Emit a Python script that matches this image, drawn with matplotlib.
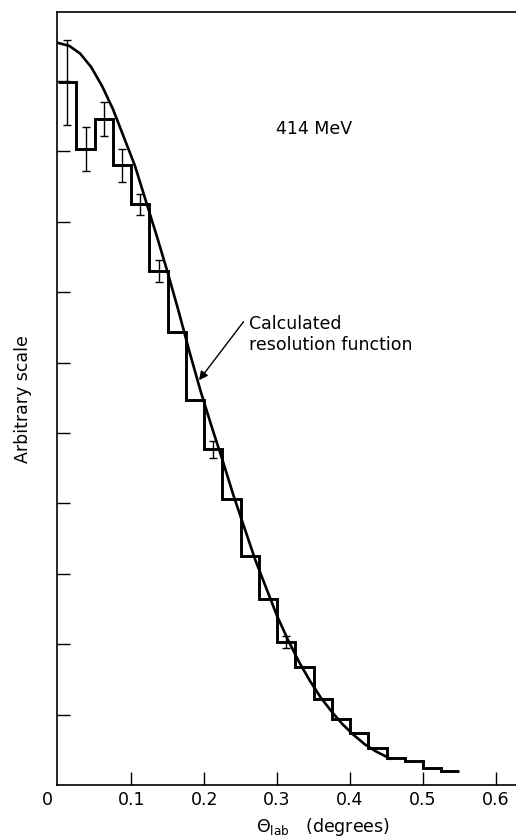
import numpy as np
import matplotlib.pyplot as plt
from matplotlib.transforms import ScaledTranslation

plt.close('all')
plt.rcParams['font.family'] = ['DejaVu Sans']

# histogram (bins of 0.025 deg), arbitrary units
binEdges = [0.0, 0.025, 0.05, 0.075, 0.1, 0.125, 0.15, 0.175, 0.2, 0.225, 0.25,
            0.275, 0.3, 0.325, 0.35, 0.375, 0.4, 0.425, 0.45, 0.475, 0.5, 0.525, 0.55]
counts = [9.98, 9.03, 9.46, 8.80, 8.25, 7.30, 6.43, 5.47, 4.77, 4.06, 3.25,
          2.64, 2.03, 1.68, 1.22, 0.94, 0.74, 0.53, 0.39, 0.34, 0.24, 0.20]

# error bars on a few bins
errX = [0.0125, 0.0375, 0.0625, 0.0875, 0.1125, 0.1375, 0.2125, 0.3125]
errY = [9.98, 9.03, 9.46, 8.80, 8.25, 7.30, 4.77, 2.03]
errSize = [0.60, 0.31, 0.24, 0.23, 0.15, 0.16, 0.12, 0.08]

# calculated resolution function
curveX = [0.0, 0.015, 0.03, 0.045, 0.06, 0.075, 0.09, 0.105, 0.12, 0.135,
          0.15, 0.165, 0.18, 0.195, 0.21, 0.225, 0.24, 0.255, 0.27, 0.285,
          0.3, 0.315, 0.33, 0.345, 0.36, 0.375, 0.39, 0.405, 0.42, 0.435, 0.456]
curveY = [10.54, 10.50, 10.39, 10.20, 9.93, 9.60, 9.20, 8.80, 8.30, 7.80,
          7.28, 6.73, 6.15, 5.60, 5.10, 4.62, 4.12, 3.66, 3.20, 2.80,
          2.40, 2.06, 1.75, 1.48, 1.24, 1.04, 0.86, 0.71, 0.58, 0.48, 0.37]

xTicks = [0, 0.1, 0.2, 0.3, 0.4, 0.5, 0.6]
xTickLabels = ['0', '0.1', '0.2', '0.3', '0.4', '0.5', '0.6']
yTicks = [1, 2, 3, 4, 5, 6, 7, 8, 9, 10]

fig = plt.figure(figsize=(5.16, 8.39), dpi=100)
ax = fig.add_axes([57/516., 1-785/839., (516-57)/516., (785-12)/839.])

ax.stairs(counts, binEdges, baseline=None, color='black', lw=2.1)
ax.errorbar(errX, errY, yerr=errSize, fmt='none', ecolor='black',
            elinewidth=1.0, capsize=3, capthick=1.0)
ax.plot(curveX, curveY, color='black', lw=1.9, solid_capstyle='round',
        solid_joinstyle='round')

ax.set_xlim(-0.0017, 0.6275)
ax.set_ylim(0, 10.98)

ax.set_xticks(xTicks)
ax.set_xticklabels(xTickLabels)
ax.set_yticks(yTicks)
ax.set_yticklabels([])
ax.tick_params(axis='both', direction='in', length=9.5, width=1.0,
               labelsize=12.5, pad=4.5)
ax.tick_params(axis='y', labelleft=False)

# the "0" label sits left of the origin
lbl0 = ax.get_xticklabels()[0]
lbl0.set_transform(lbl0.get_transform() + ScaledTranslation(-0.11, 0, fig.dpi_scale_trans))
ax.xaxis.get_major_ticks()[0].tick1line.set_visible(False)

for s in ['left', 'bottom', 'top']:
    ax.spines[s].set_linewidth(1.2)
ax.spines['right'].set_visible(False)

ax.text(0.298, 9.32, '414 MeV', fontsize=12.5, ha='left', va='center')
ax.text(0.261, 6.40, 'Calculated\nresolution function', fontsize=12.5,
        ha='left', va='center', linespacing=1.2)
ax.annotate('', xy=(0.193, 5.75), xytext=(0.254, 6.58),
            arrowprops=dict(arrowstyle='-|>', color='black', lw=1.0,
                            mutation_scale=13, shrinkA=0, shrinkB=0))

fig.text(23/516., 1-399/839., 'Arbitrary scale', rotation=90,
         fontsize=12.5, ha='center', va='center')
fig.text(323/516., 1-832/839., r'$\Theta_{\mathrm{lab}}$   (degrees)',
         fontsize=12.5, ha='center', va='baseline')

fig.savefig('out.png', dpi=100)
